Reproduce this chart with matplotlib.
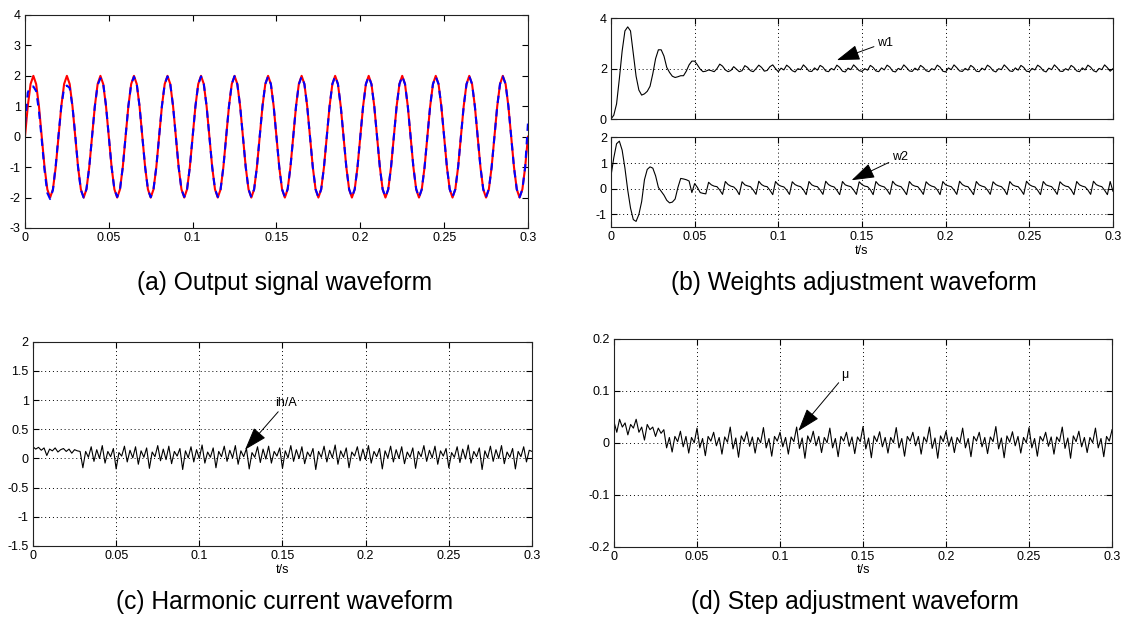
import numpy as np
import matplotlib
matplotlib.use("Agg")
import matplotlib.pyplot as plt

plt.rcParams['font.family'] = ['Liberation Sans', 'DejaVu Sans']
plt.rcParams['axes.unicode_minus'] = False

# time axis, 0 .. 0.3 s (12 samples per 50 Hz cycle)
t = np.linspace(0, 0.3, 181)

# (a) reference (red) and output (blue dashed)
ref_signal = [
    0.0, 1.0, 1.73, 2.0, 1.73, 1.0, 0.0, -1.0, -1.73, -2.0, -1.73, -1.0,
    0.0, 1.0, 1.73, 2.0, 1.73, 1.0, 0.0, -1.0, -1.73, -2.0, -1.73, -1.0,
    0.0, 1.0, 1.73, 2.0, 1.73, 1.0, 0.0, -1.0, -1.73, -2.0, -1.73, -1.0,
    0.0, 1.0, 1.73, 2.0, 1.73, 1.0, 0.0, -1.0, -1.73, -2.0, -1.73, -1.0,
    0.0, 1.0, 1.73, 2.0, 1.73, 1.0, 0.0, -1.0, -1.73, -2.0, -1.73, -1.0,
    0.0, 1.0, 1.73, 2.0, 1.73, 1.0, 0.0, -1.0, -1.73, -2.0, -1.73, -1.0,
    0.0, 1.0, 1.73, 2.0, 1.73, 1.0, 0.0, -1.0, -1.73, -2.0, -1.73, -1.0,
    0.0, 1.0, 1.73, 2.0, 1.73, 1.0, 0.0, -1.0, -1.73, -2.0, -1.73, -1.0,
    0.0, 1.0, 1.73, 2.0, 1.73, 1.0, 0.0, -1.0, -1.73, -2.0, -1.73, -1.0,
    0.0, 1.0, 1.73, 2.0, 1.73, 1.0, 0.0, -1.0, -1.73, -2.0, -1.73, -1.0,
    0.0, 1.0, 1.73, 2.0, 1.73, 1.0, 0.0, -1.0, -1.73, -2.0, -1.73, -1.0,
    0.0, 1.0, 1.73, 2.0, 1.73, 1.0, 0.0, -1.0, -1.73, -2.0, -1.73, -1.0,
    0.0, 1.0, 1.73, 2.0, 1.73, 1.0, 0.0, -1.0, -1.73, -2.0, -1.73, -1.0,
    0.0, 1.0, 1.73, 2.0, 1.73, 1.0, 0.0, -1.0, -1.73, -2.0, -1.73, -1.0,
    0.0, 1.0, 1.73, 2.0, 1.73, 1.0, 0.0, -1.0, -1.73, -2.0, -1.73, -1.0,
    0.0,
]
out_signal = [
    0.4, 1.45, 1.65, 1.65, 1.5, 0.85, -0.1, -1.1, -1.85, -2.05, -1.75, -0.95,
    0.05, 1.0, 1.6, 1.68, 1.6, 1.0, 0.05, -1.0, -1.75, -2.0, -1.72, -1.0,
    0.0, 1.0, 1.7, 1.92, 1.75, 1.02, 0.02, -1.0, -1.73, -1.98, -1.73, -1.0,
    0.0, 1.01, 1.72, 1.97, 1.73, 1.0, 0.01, -1.0, -1.73, -1.99, -1.72, -1.0,
    0.0, 1.0, 1.73, 1.98, 1.73, 1.0, 0.0, -1.01, -1.73, -1.98, -1.73, -1.0,
    0.01, 1.0, 1.72, 1.98, 1.73, 1.0, 0.0, -1.0, -1.72, -1.98, -1.73, -1.0,
    0.0, 1.0, 1.73, 1.99, 1.72, 1.0, 0.0, -1.0, -1.73, -1.99, -1.73, -1.0,
    0.0, 1.01, 1.73, 1.98, 1.73, 1.0, 0.01, -1.0, -1.73, -1.98, -1.72, -1.0,
    0.0, 1.0, 1.72, 1.98, 1.73, 1.0, 0.0, -1.0, -1.73, -1.99, -1.73, -1.0,
    0.0, 1.0, 1.73, 1.99, 1.73, 1.01, 0.0, -1.0, -1.73, -1.98, -1.73, -1.0,
    0.01, 1.0, 1.73, 1.98, 1.72, 1.0, 0.0, -1.01, -1.73, -1.98, -1.73, -1.0,
    0.0, 1.0, 1.73, 1.99, 1.73, 1.0, 0.0, -1.0, -1.72, -1.99, -1.73, -1.0,
    0.0, 1.01, 1.73, 1.98, 1.73, 1.0, 0.01, -1.0, -1.73, -1.98, -1.73, -1.0,
    0.0, 1.0, 1.72, 1.99, 1.73, 1.0, 0.0, -1.0, -1.73, -1.98, -1.72, -1.0,
    0.0, 1.0, 1.73, 1.98, 1.73, 1.0, 0.0, -1.01, -1.73, -1.99, -1.73, -1.0,
    0.45,
]

# (b) weights w1, w2
w1 = [
    0.0, 0.15, 0.6, 1.6, 2.7, 3.5, 3.66, 3.5, 2.6, 1.7, 1.15, 0.95,
    1.0, 1.1, 1.3, 1.8, 2.4, 2.75, 2.75, 2.5, 2.05, 1.85, 1.7, 1.65,
    1.68, 1.72, 1.72, 1.9, 2.15, 2.3, 2.3, 2.15, 1.98, 1.88, 1.9, 1.95,
    1.92, 1.88, 2.0, 2.18, 2.1, 1.95, 1.88, 1.93, 2.08, 1.98, 1.88, 1.92,
    2.12, 2.05, 1.92, 1.88, 2.0, 2.14, 2.05, 1.9, 1.93, 2.08, 2.15, 2.0,
    1.88, 2.02, 1.95, 2.14, 2.05, 1.92, 1.87, 2.0, 1.96, 2.15, 2.04, 1.9,
    1.89, 2.03, 1.94, 2.13, 2.06, 1.91, 1.88, 2.01, 1.95, 2.14, 2.05, 1.9,
    1.87, 2.02, 1.96, 2.15, 2.04, 1.92, 1.89, 2.0, 1.94, 2.13, 2.05, 1.91,
    1.88, 2.03, 1.95, 2.14, 2.06, 1.9, 1.87, 2.01, 1.96, 2.15, 2.04, 1.91,
    1.89, 2.02, 1.94, 2.13, 2.05, 1.92, 1.88, 2.0, 1.95, 2.14, 2.06, 1.9,
    1.87, 2.03, 1.96, 2.15, 2.04, 1.91, 1.89, 2.01, 1.94, 2.13, 2.05, 1.9,
    1.88, 2.02, 1.95, 2.14, 2.06, 1.92, 1.87, 2.0, 1.96, 2.15, 2.04, 1.91,
    1.89, 2.03, 1.94, 2.13, 2.05, 1.9, 1.88, 2.01, 1.95, 2.14, 2.06, 1.92,
    1.87, 2.02, 1.96, 2.15, 2.04, 1.9, 1.89, 2.0, 1.94, 2.13, 2.05, 1.91,
    1.88, 2.03, 1.95, 2.14, 2.06, 1.92, 1.87, 2.01, 1.96, 2.15, 2.04, 1.9,
    2.0,
]
w2 = [
    0.5, 1.2, 1.75, 1.85, 1.5, 0.8, -0.05, -0.75, -1.2, -1.27, -1.0, -0.5,
    0.35, 0.75, 0.85, 0.8, 0.5, 0.05, -0.1, -0.25, -0.45, -0.55, -0.52, -0.4,
    0.05, 0.4, 0.38, 0.35, 0.3, -0.15, 0.2, 0.05, -0.15, -0.18, -0.2, 0.25,
    0.15, 0.1, 0.08, -0.05, -0.22, 0.28, 0.16, 0.1, 0.07, -0.04, -0.23, 0.27,
    0.15, 0.11, 0.08, -0.05, -0.22, 0.29, 0.16, 0.1, 0.08, -0.06, -0.23, 0.28,
    0.15, 0.1, 0.07, -0.05, -0.22, 0.27, 0.16, 0.11, 0.08, -0.04, -0.23, 0.28,
    0.15, 0.1, 0.08, -0.05, -0.22, 0.29, 0.16, 0.1, 0.07, -0.06, -0.23, 0.28,
    0.15, 0.11, 0.08, -0.05, -0.22, 0.27, 0.16, 0.1, 0.08, -0.04, -0.23, 0.28,
    0.15, 0.1, 0.07, -0.05, -0.22, 0.29, 0.16, 0.11, 0.08, -0.06, -0.23, 0.28,
    0.15, 0.1, 0.08, -0.05, -0.22, 0.27, 0.16, 0.1, 0.07, -0.04, -0.23, 0.28,
    0.15, 0.11, 0.08, -0.05, -0.22, 0.29, 0.16, 0.1, 0.08, -0.06, -0.23, 0.28,
    0.15, 0.1, 0.07, -0.05, -0.22, 0.27, 0.16, 0.11, 0.08, -0.04, -0.23, 0.28,
    0.15, 0.1, 0.08, -0.05, -0.22, 0.29, 0.16, 0.1, 0.07, -0.06, -0.23, 0.28,
    0.15, 0.11, 0.08, -0.05, -0.22, 0.27, 0.16, 0.1, 0.08, -0.04, -0.23, 0.28,
    0.15, 0.1, 0.07, -0.05, -0.22, 0.29, 0.16, 0.11, 0.08, -0.06, -0.23, 0.28,
    -0.1,
]

# (c) harmonic current ih
ih = [
    0.2, 0.16, 0.19, 0.14, 0.18, 0.05, 0.16, 0.13, 0.18, 0.11, 0.15, 0.17,
    0.12, 0.16, 0.09, 0.15, 0.13, 0.12, -0.16, 0.12, 0.02, 0.2, -0.05, 0.15,
    0.0, 0.22, -0.08, 0.12, 0.03, 0.17, -0.18, 0.1, 0.04, 0.21, -0.06, 0.14,
    0.01, 0.2, -0.1, 0.13, 0.02, 0.18, -0.17, 0.11, 0.03, 0.22, -0.04, 0.16,
    -0.02, 0.21, -0.09, 0.12, 0.04, 0.17, -0.19, 0.13, 0.01, 0.2, -0.06, 0.15,
    0.0, 0.23, -0.08, 0.11, 0.02, 0.18, -0.16, 0.12, 0.03, 0.21, -0.05, 0.14,
    0.01, 0.22, -0.1, 0.13, 0.03, 0.17, -0.18, 0.1, 0.02, 0.2, -0.07, 0.16,
    -0.01, 0.21, -0.08, 0.12, 0.04, 0.18, -0.17, 0.13, 0.01, 0.22, -0.05, 0.15,
    0.0, 0.2, -0.09, 0.11, 0.03, 0.17, -0.19, 0.12, 0.02, 0.21, -0.06, 0.14,
    0.01, 0.23, -0.1, 0.13, 0.02, 0.18, -0.16, 0.11, 0.04, 0.2, -0.04, 0.16,
    -0.02, 0.22, -0.08, 0.12, 0.03, 0.17, -0.18, 0.13, 0.01, 0.21, -0.06, 0.15,
    0.0, 0.2, -0.09, 0.11, 0.02, 0.18, -0.17, 0.12, 0.03, 0.22, -0.05, 0.14,
    0.01, 0.21, -0.1, 0.13, 0.04, 0.17, -0.16, 0.1, 0.02, 0.2, -0.07, 0.16,
    -0.01, 0.23, -0.08, 0.12, 0.03, 0.18, -0.19, 0.13, 0.01, 0.21, -0.05, 0.15,
    0.0, 0.22, -0.09, 0.11, 0.02, 0.17, -0.18, 0.12, 0.03, 0.2, -0.06, 0.14,
    0.12,
]

# (d) step size mu
mu = [
    0.04, 0.02, 0.045, 0.03, 0.038, 0.015, 0.035, 0.028, 0.045, 0.02, 0.03, 0.005,
    0.035, 0.025, 0.03, 0.012, 0.028, 0.018, 0.025, -0.01, 0.01, -0.018, 0.012, 0.002,
    0.022, -0.008, 0.012, -0.02, 0.01, 0.0, 0.028, -0.01, 0.008, -0.025, 0.012, 0.003,
    0.02, -0.006, 0.01, -0.022, 0.011, 0.001, 0.03, -0.012, 0.009, -0.028, 0.013, 0.002,
    0.021, -0.007, 0.011, -0.02, 0.01, 0.0, 0.029, -0.01, 0.008, -0.026, 0.012, 0.003,
    0.02, -0.008, 0.01, -0.022, 0.011, 0.002, 0.03, -0.011, 0.009, -0.03, 0.013, 0.001,
    0.022, -0.006, 0.012, -0.019, 0.01, 0.0, 0.028, -0.01, 0.008, -0.027, 0.012, 0.003,
    0.02, -0.007, 0.011, -0.021, 0.011, 0.002, 0.031, -0.012, 0.009, -0.029, 0.013, 0.002,
    0.021, -0.008, 0.01, -0.02, 0.01, 0.0, 0.029, -0.01, 0.008, -0.026, 0.012, 0.003,
    0.02, -0.006, 0.012, -0.022, 0.011, 0.001, 0.03, -0.011, 0.009, -0.03, 0.013, 0.002,
    0.022, -0.007, 0.011, -0.019, 0.01, 0.0, 0.028, -0.01, 0.008, -0.027, 0.012, 0.003,
    0.02, -0.008, 0.01, -0.021, 0.011, 0.002, 0.031, -0.012, 0.009, -0.029, 0.013, 0.001,
    0.021, -0.006, 0.012, -0.02, 0.01, 0.0, 0.029, -0.01, 0.008, -0.026, 0.012, 0.003,
    0.02, -0.007, 0.011, -0.022, 0.011, 0.002, 0.03, -0.011, 0.009, -0.03, 0.013, 0.002,
    0.022, -0.008, 0.01, -0.019, 0.01, 0.0, 0.028, -0.01, 0.008, -0.027, 0.012, 0.003,
    0.025,
]

xticks = [0, 0.05, 0.1, 0.15, 0.2, 0.25, 0.3]
xticklabels = ['0', '0.05', '0.1', '0.15', '0.2', '0.25', '0.3']

fig = plt.figure(figsize=(11.25, 6.17), dpi=100)

ARROW = dict(arrowstyle='-|>,head_length=0.9,head_width=0.3', color='black',
             lw=0.7, mutation_scale=16, shrinkA=0, shrinkB=0)


def style(ax, yticks, ylabels, grid=True, xlabels=True):
    ax.set_xlim(0, 0.3)
    ax.set_xticks(xticks)
    ax.set_xticklabels(xticklabels if xlabels else [])
    ax.set_yticks(yticks)
    ax.set_yticklabels(ylabels)
    ax.tick_params(direction='in', top=True, right=True, length=4,
                   width=0.8, labelsize=9, pad=3)
    for s in ax.spines.values():
        s.set_linewidth(0.8)
        s.set_color('#222222')
    if grid:
        ax.grid(True, color='black', linestyle=(0, (1, 3)), linewidth=0.7)


# (a) output signal
ax_a = fig.add_axes([0.0222, 0.6305, 0.4471, 0.3452])
ax_a.plot(t, ref_signal, color='red', lw=1.5)
ax_a.plot(t, out_signal, color='blue', lw=1.5, dashes=(3.5, 3))
ax_a.set_ylim(-3, 4)
style(ax_a, [-3, -2, -1, 0, 1, 2, 3, 4], ['-3', '-2', '-1', '0', '1', '2', '3', '4'], grid=False)

# (b) weights
ax_b1 = fig.add_axes([0.5431, 0.8071, 0.4462, 0.1632])
ax_b1.plot(t, w1, color='black', lw=0.8)
ax_b1.set_ylim(0, 4)
style(ax_b1, [0, 2, 4], ['0', '2', '4'], xlabels=False)
ax_b1.annotate('w1', xy=(0.135, 2.34), xytext=(0.1588, 3.03), fontsize=9,
               ha='left', va='center', arrowprops=ARROW)

ax_b2 = fig.add_axes([0.5431, 0.6316, 0.4462, 0.1459])
ax_b2.plot(t, w2, color='black', lw=0.8)
ax_b2.set_ylim(-1.5, 2)
style(ax_b2, [-1, 0, 1, 2], ['-1', '0', '1', '2'])
ax_b2.set_xlabel('t/s', fontsize=9, labelpad=1)
ax_b2.annotate('w2', xy=(0.1438, 0.33), xytext=(0.1677, 1.22), fontsize=9,
               ha='left', va='center', arrowprops=ARROW)

# (c) harmonic current
ax_c = fig.add_axes([0.0293, 0.1151, 0.4436, 0.3311])
ax_c.plot(t, ih, color='black', lw=0.8)
ax_c.set_ylim(-1.5, 2)
style(ax_c, [-1.5, -1, -0.5, 0, 0.5, 1, 1.5, 2],
      ['-1.5', '-1', '-0.5', '0', '0.5', '1', '1.5', '2'])
ax_c.set_xlabel('t/s', fontsize=9, labelpad=1)
ax_c.annotate('ih/A', xy=(0.1275, 0.15), xytext=(0.1455, 0.95), fontsize=9,
              ha='left', va='center', arrowprops=ARROW)

# (d) step adjustment
ax_d = fig.add_axes([0.5458, 0.1140, 0.4427, 0.3371])
ax_d.plot(t, mu, color='black', lw=0.8)
ax_d.set_ylim(-0.2, 0.2)
style(ax_d, [-0.2, -0.1, 0, 0.1, 0.2], ['-0.2', '-0.1', '0', '0.1', '0.2'])
ax_d.set_xlabel('t/s', fontsize=9, labelpad=1)
ax_d.annotate('μ', xy=(0.111, 0.0225), xytext=(0.137, 0.13), fontsize=9,
              ha='left', va='center', arrowprops=ARROW)

# captions
fig.text(0.2529, 0.5413, '(a) Output signal waveform', fontsize=17.7, ha='center', va='center')
fig.text(0.7587, 0.5413, '(b) Weights adjustment waveform', fontsize=17.7, ha='center', va='center')
fig.text(0.2533, 0.0243, '(c) Harmonic current waveform', fontsize=17.7, ha='center', va='center')
fig.text(0.7600, 0.0243, '(d) Step adjustment waveform', fontsize=17.7, ha='center', va='center')

fig.savefig('out.png', dpi=100)
